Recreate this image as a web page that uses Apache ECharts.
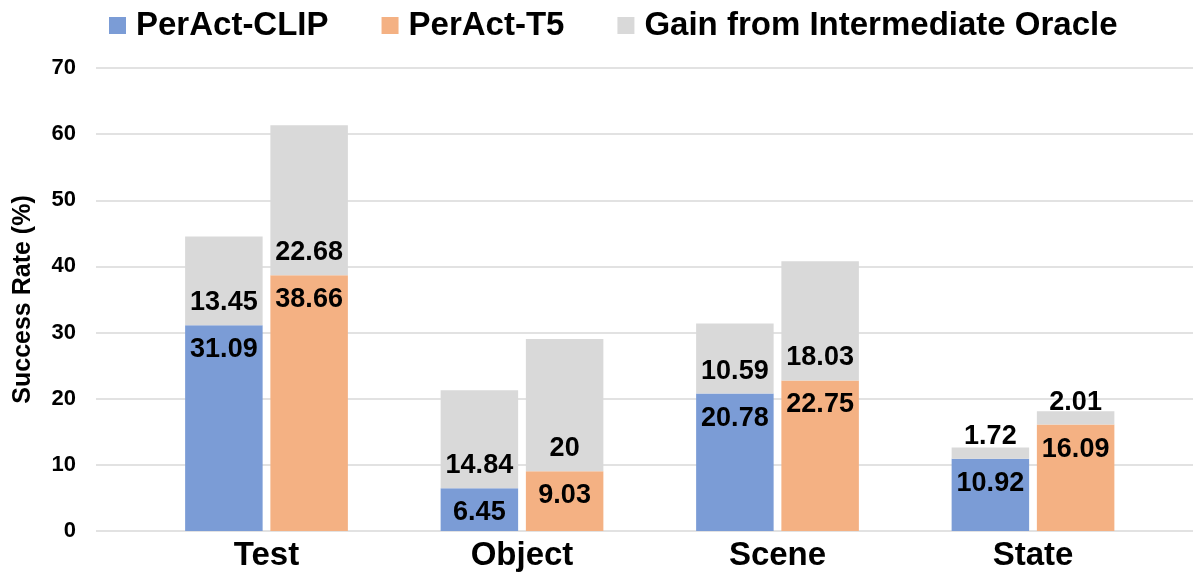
<!DOCTYPE html>
<html>
<head>
<meta charset="utf-8">
<script src="https://cdn.jsdelivr.net/npm/echarts@6/dist/echarts.min.js"></script>
<style>
  html, body { margin: 0; padding: 0; background: #fff; }
  #chart { width: 1193px; height: 573px; }
</style>
</head>
<body>
<div id="chart"></div>
<script>
// Task categories
const categories = ['Test', 'Object', 'Scene', 'State'];
// Success rates (%) of the base models
const clipBase = [31.09, 6.45, 20.78, 10.92];
const t5Base = [38.66, 9.03, 22.75, 16.09];
// Extra success rate when the intermediate oracle is provided
const clipGain = [13.45, 14.84, 10.59, 1.72];
const t5Gain = [22.68, 20, 18.03, 2.01];
// Value axis
const yMin = 0, yMax = 70, yStep = 10;

const FONT = '"Liberation Sans", Arial, sans-serif';
const BLUE = '#7B9CD6', ORANGE = '#F4B183', GRAY = '#D9D9D9';
const GAIN_NAME = 'Gain from Intermediate Oracle';

const baseLabel = {
  show: true, position: 'insideTop', distance: 11,
  color: '#000', fontFamily: FONT, fontWeight: 'bold', fontSize: 27
};
const gainLabel = {
  show: true, position: 'insideBottom', distance: 9,
  color: '#000', fontFamily: FONT, fontWeight: 'bold', fontSize: 27
};

const barCommon = { xAxisIndex: 1, yAxisIndex: 1, barWidth: 77.5, barGap: '10%' };

const chart = echarts.init(document.getElementById('chart'), null, { renderer: 'canvas' });
chart.setOption({
  animation: false,
  backgroundColor: '#fff',
  legend: {
    left: 104, top: 4,
    itemWidth: 17, itemHeight: 17, itemGap: 53,
    icon: 'rect',
    data: ['PerAct-CLIP', 'PerAct-T5', GAIN_NAME],
    textStyle: { fontFamily: FONT, fontWeight: 'bold', fontSize: 33, color: '#000', padding: [0, 0, 0, 5] }
  },
  grid: [
    // full-width plot area carrying the horizontal gridlines
    { left: 96, right: 0, top: 68, bottom: 42 },
    // inner area where the category bands live
    { left: 138.75, right: 32.25, top: 68, bottom: 42 }
  ],
  xAxis: [
    { gridIndex: 0, type: 'value', show: false, min: 0, max: 1 },
    {
      gridIndex: 1, type: 'category', data: categories,
      axisLine: { show: false }, axisTick: { show: false },
      axisLabel: { margin: 8, color: '#000', fontFamily: FONT, fontWeight: 'bold', fontSize: 33 }
    }
  ],
  yAxis: [
    {
      gridIndex: 0, type: 'value', min: yMin, max: yMax, interval: yStep,
      name: 'Success Rate (%)', nameLocation: 'middle', nameGap: 60,
      nameTextStyle: { color: '#000', fontFamily: FONT, fontWeight: 'bold', fontSize: 25 },
      axisLine: { show: false }, axisTick: { show: false },
      axisLabel: { margin: 20, color: '#000', fontFamily: FONT, fontWeight: 'bold', fontSize: 22 },
      splitLine: { show: true, lineStyle: { color: '#D9D9D9', width: 1.5 } }
    },
    {
      gridIndex: 1, type: 'value', min: yMin, max: yMax, interval: yStep, show: false,
      splitLine: { show: false }
    }
  ],
  series: [
    Object.assign({ type: 'bar', name: 'PerAct-CLIP', stack: 'clip', data: clipBase,
      itemStyle: { color: BLUE }, label: baseLabel }, barCommon),
    Object.assign({ type: 'bar', name: GAIN_NAME, stack: 'clip', data: clipGain,
      itemStyle: { color: GRAY }, label: gainLabel }, barCommon),
    Object.assign({ type: 'bar', name: 'PerAct-T5', stack: 't5', data: t5Base,
      itemStyle: { color: ORANGE }, label: baseLabel }, barCommon),
    Object.assign({ type: 'bar', name: GAIN_NAME, stack: 't5', data: t5Gain,
      itemStyle: { color: GRAY }, label: gainLabel }, barCommon)
  ]
});
</script>
</body>
</html>
